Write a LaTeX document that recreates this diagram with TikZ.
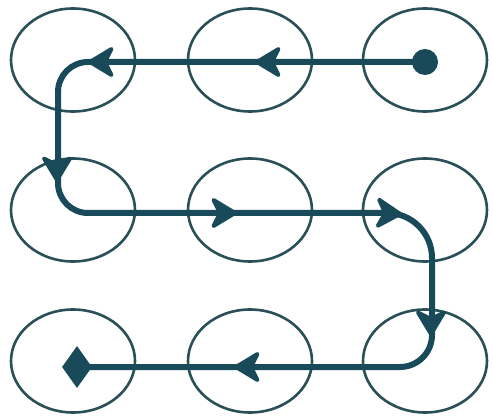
\documentclass[tikz,border=0pt]{standalone}
\usetikzlibrary{arrows.meta,shapes.geometric}
\definecolor{ringcol}{RGB}{40,80,86}
\definecolor{pathcol}{RGB}{24,74,90}
\tikzset{
  ring/.style={draw=ringcol, line width=2.6pt, ellipse, minimum width=124pt, minimum height=103pt, inner sep=0pt},
  trail/.style={draw=pathcol, line width=6pt},
  tipmark/.style={draw=pathcol, fill=pathcol, line width=2pt, -{Stealth[length=30pt,width=36pt,inset=9pt,line width=4pt,round]}},
}
\begin{document}
\begin{tikzpicture}[x=1pt,y=-1pt]
\useasboundingbox (0,0) rectangle (493,417);
% grid of rings
\node[ring] (n11) at (73,60) {};
\node[ring] (n12) at (250,60) {};
\node[ring] (n13) at (425,60) {};
\node[ring] (n21) at (73,210) {};
\node[ring] (n22) at (250,210) {};
\node[ring] (n23) at (425,210) {};
\node[ring] (n31) at (73,361) {};
\node[ring] (n32) at (250,361) {};
\node[ring] (n33) at (425,361) {};
% start dot and end diamond
\node[circle, fill=pathcol, minimum size=26pt, inner sep=0pt] (start) at (425,62) {};
\node[diamond, fill=pathcol, minimum width=30pt, minimum height=42pt, inner sep=0pt, aspect=0.7] (finish) at (77,367) {};
% corners
\coordinate (c1) at (58,62);
\coordinate (c2) at (58,213);
\coordinate (c3) at (432,213);
\coordinate (c4) at (432,367);
% trail
\draw[trail, rounded corners=30pt] (start.center) -- (c1) -- (c2) [rounded corners=45pt] -- (c3) [rounded corners=32pt] -- (c4) -- (finish.center);
% arrow heads
\draw[tipmark] (292,62) -- (255,62);
\draw[tipmark] (125,62) -- (88,62);
\draw[tipmark] (57,145) -- (57,182);
\draw[tipmark] (198,213) -- (237,213);
\draw[tipmark] (364,212) -- (402,214);
\draw[tipmark] (431,298) -- (431,336);
\draw[tipmark] (272,367) -- (234,367);
\end{tikzpicture}
\end{document}
